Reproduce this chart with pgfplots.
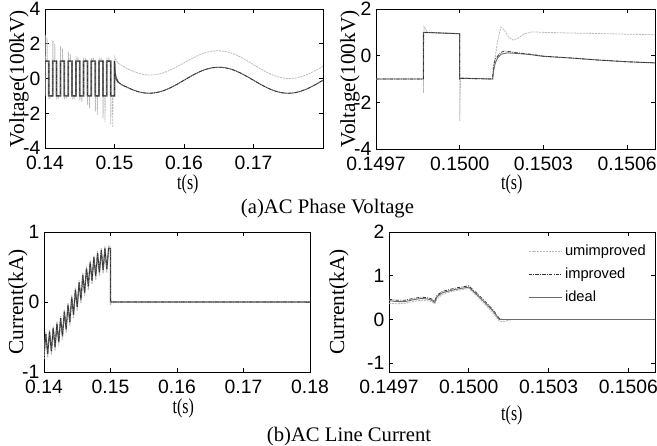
\documentclass[border=0pt]{standalone}
\usepackage{fontspec}
\setmainfont{Liberation Serif}
\newfontfamily\arialf{Liberation Sans}
\usepackage{graphicx}
\usepackage{pgfplots}
\usepackage{pgfplotstable}
\pgfplotsset{compat=1.18}

\definecolor{lgray}{gray}{0.72}
\definecolor{mgray}{gray}{0.42}

\pgfplotsset{
  myax/.style={scale only axis, anchor=south west,
    axis line style={line width=0.6pt},
    tick align=inside, major tick length=3pt,
    every tick/.style={black, line width=0.5pt},
    tick label style={font=\arialf\fontsize{14.5}{15}\selectfont},
    xticklabel style={yshift=-2.5pt},
    /pgf/number format/assume math mode=true,
    label style={font=\fontsize{16}{17}\selectfont},
    scaled ticks=false},
  sunimp/.style={lgray, line width=0.6pt, dash pattern=on 1.5pt off 0.7pt},
  sideal/.style={mgray, line width=0.7pt},
  simp/.style={black!80, line width=0.6pt, dash pattern=on 2.5pt off 1pt on 0.6pt off 1pt},
}

% top-left: switching part, ideal/improved
\pgfplotstableread{
t v
0.14 -1
0.14 1
0.140556 1
0.140556 -1
0.141111 -1
0.141111 1
0.141667 1
0.141667 -1
0.142222 -1
0.142222 1
0.142778 1
0.142778 -1
0.143333 -1
0.143333 1
0.143889 1
0.143889 -1
0.144444 -1
0.144444 1
0.145 1
0.145 -1
0.145556 -1
0.145556 1
0.146111 1
0.146111 -1
0.146667 -1
0.146667 1
0.147222 1
0.147222 -1
0.147778 -1
0.147778 1
0.148333 1
0.148333 -1
0.148889 -1
0.148889 1
0.149444 1
0.149444 -1
0.15 -1
0.15 1
0.15008 0.3
0.1502 0.05
0.1505 -0.2
}\tlsw

% top-left: switching part, unimproved
\pgfplotstableread{
t v
0.14 -1
0.14002 2.5
0.14006 1
0.140278 1
0.140298 2.35
0.140338 1
0.140556 1
0.140576 -1.2
0.140616 -1
0.140833 -1
0.140853 -1.15
0.140893 -1
0.141111 -1
0.141131 2.2
0.141171 1
0.141389 1
0.141409 2.0
0.141449 1
0.141667 1
0.141687 -1.2
0.141727 -1
0.141944 -1
0.141964 -1.15
0.142004 -1
0.142222 -1
0.142242 1.85
0.142282 1
0.1425 1
0.14252 1.7
0.14256 1
0.142778 1
0.142798 -1.2
0.142838 -1
0.143056 -1
0.143076 -1.15
0.143116 -1
0.143333 -1
0.143353 1.55
0.143393 1
0.143611 1
0.143631 1.4
0.143671 1
0.143889 1
0.143909 -1.2
0.143949 -1
0.144167 -1
0.144187 -1.2
0.144227 -1
0.144444 -1
0.144464 1.3
0.144504 1
0.144722 1
0.144742 1.25
0.144782 1
0.145 1
0.14502 -1.25
0.14506 -1
0.145278 -1
0.145298 -1.35
0.145338 -1
0.145556 -1
0.145576 1.2
0.145616 1
0.145833 1
0.145853 1.2
0.145893 1
0.146111 1
0.146131 -1.5
0.146171 -1
0.146389 -1
0.146409 -1.7
0.146449 -1
0.146667 -1
0.146687 1.2
0.146727 1
0.146944 1
0.146964 1.2
0.147004 1
0.147222 1
0.147242 -1.9
0.147282 -1
0.1475 -1
0.14752 -2.1
0.14756 -1
0.147778 -1
0.147798 1.2
0.147838 1
0.148056 1
0.148076 1.2
0.148116 1
0.148333 1
0.148353 -2.3
0.148393 -1
0.148611 -1
0.148631 -2.5
0.148671 -1
0.148889 -1
0.148909 1.2
0.148949 1
0.149167 1
0.149187 1.2
0.149227 1
0.149444 1
0.149464 -2.65
0.149504 -1
0.149722 -1
0.149742 -2.8
0.149782 -1
0.15 -1
0.15003 1.25
0.1502 1.1
0.1505 0.88
}\tlswu

% top-left: after the fault, d = ideal/improved, u = unimproved
\pgfplotstableread{
t d u
0.1505 -0.2 0.88
0.151 -0.35 0.758
0.152 -0.541 0.539
0.153 -0.707 0.363
0.154 -0.813 0.247
0.155 -0.85 0.2
0.156 -0.813 0.227
0.157 -0.707 0.323
0.158 -0.541 0.479
0.159 -0.332 0.678
0.160 -0.1 0.90
0.161 0.132 1.122
0.162 0.341 1.321
0.163 0.507 1.477
0.164 0.613 1.573
0.165 0.65 1.6
0.166 0.613 1.553
0.167 0.507 1.437
0.168 0.341 1.261
0.169 0.132 1.042
0.170 -0.1 0.80
0.171 -0.332 0.558
0.172 -0.541 0.339
0.173 -0.707 0.163
0.174 -0.813 0.047
0.175 -0.85 0.0
0.176 -0.813 0.027
0.177 -0.707 0.123
0.178 -0.541 0.279
0.179 -0.332 0.478
0.180 -0.1 0.70
}\tlsin

% bottom-left: line current, d = ideal/improved, u = unimproved
\pgfplotstableread{
t d u
0.14 -0.765 -0.815
0.140278 -0.456 -0.426
0.140556 -0.742 -0.792
0.140833 -0.424 -0.394
0.141111 -0.701 -0.751
0.141389 -0.375 -0.345
0.141667 -0.644 -0.694
0.141944 -0.309 -0.279
0.142222 -0.571 -0.621
0.1425 -0.230 -0.200
0.142778 -0.486 -0.536
0.143056 -0.139 -0.109
0.143333 -0.390 -0.440
0.143611 -0.040 -0.010
0.143889 -0.287 -0.337
0.144167 0.066 0.096
0.144444 -0.180 -0.230
0.144722 0.174 0.204
0.145 -0.072 -0.122
0.145278 0.281 0.311
0.145556 0.033 -0.017
0.145833 0.384 0.414
0.146111 0.133 0.083
0.146389 0.480 0.510
0.146667 0.225 0.175
0.146944 0.567 0.597
0.147222 0.305 0.255
0.1475 0.640 0.670
0.147778 0.371 0.321
0.148056 0.699 0.729
0.148333 0.422 0.372
0.148611 0.740 0.770
0.148889 0.455 0.405
0.149167 0.764 0.794
0.149444 0.469 0.419
0.149722 0.769 0.799
0.15 0.76 0.79
0.15 0 -0.05
0.1501 0 0.02
0.1502 0 0
0.18 0 0
}\blc

\begin{document}
\begin{tikzpicture}
\path[use as bounding box] (0,0) rectangle (492.75pt,-334.5pt);

% ---------- (a) top left ----------
\begin{axis}[myax, at={(33.75pt,-111pt)}, width=208.5pt, height=104.25pt,
  xmin=0.14, xmax=0.18, ymin=-4, ymax=4,
  xtick={0.14,0.15,0.16,0.17,0.18}, xticklabels={0.14,0.15,0.16,0.17,},
  ytick={-4,-2,0,2,4}, yticklabels={-4,-2,0,2,4},
  xlabel={\scalebox{0.75}[1]{t(s)}}, ylabel={Voltage(100kV)},
  xlabel style={at={(axis description cs:0.514,-0.259)}, anchor=center},
  ylabel style={at={(axis description cs:-0.0935,0.5)}, anchor=center}]
\addplot[sunimp] table[x=t, y=v] {\tlswu};
\addplot[sunimp, smooth] table[x=t, y=u] {\tlsin};
\addplot[sideal, line width=1.3pt] table[x=t, y=v] {\tlsw};
\addplot[sideal, smooth] table[x=t, y=d] {\tlsin};
\addplot[simp] table[x=t, y=v] {\tlsw};
\addplot[simp, smooth] table[x=t, y=d] {\tlsin};
\end{axis}

% ---------- (a) top right ----------
\begin{axis}[myax, at={(282pt,-111.75pt)}, width=209.25pt, height=105pt,
  xmin=0.1497, xmax=0.1507, ymin=-4, ymax=2,
  xtick={0.1497,0.15,0.1503,0.1506}, xticklabels={0.1497,0.1500,0.1503,0.1506},
  ytick={-4,-2,0,2}, yticklabels={-4,-2,0,2},
  xlabel={\scalebox{0.75}[1]{t(s)}}, ylabel={Voltage(100kV)},
  xlabel style={at={(axis description cs:0.487,-0.25)}, anchor=center},
  ylabel style={at={(axis description cs:-0.093,0.5)}, anchor=center}]
\addplot[sunimp] coordinates {
(0.1497,-1) (0.14987,-1) (0.14987,-1.6) (0.149872,1.25) (0.149885,1.0)
(0.15,0.95) (0.15,-2.8) (0.150003,-0.95) (0.150118,-1) (0.150125,-0.3)
(0.150135,0.6) (0.150148,1.22) (0.15016,1.1) (0.150175,0.8) (0.150191,0.67)
(0.15021,0.75) (0.15023,0.93) (0.15026,1.02) (0.1503,1.0) (0.1504,0.97)
(0.1505,0.95) (0.1506,0.92) (0.1507,0.9)};
\addplot[sideal] coordinates {
(0.1497,-1) (0.14987,-1) (0.14987,1.0) (0.15,0.94) (0.15,-1) (0.150005,-0.97)
(0.150118,-1) (0.150122,-0.6) (0.150128,-0.3) (0.150136,-0.1) (0.150148,0.06)
(0.15017,0.12) (0.1502,0.1) (0.15025,0.05) (0.1503,-0.03) (0.1504,-0.1)
(0.1505,-0.19) (0.1506,-0.26) (0.1507,-0.31)};
\addplot[simp] coordinates {
(0.1497,-1) (0.14987,-1) (0.14987,1.0) (0.15,0.94) (0.15,-1) (0.150005,-0.97)
(0.150118,-1) (0.150121,-0.4) (0.150128,-0.15) (0.150145,0.12) (0.15016,0.2)
(0.15018,0.17) (0.1502,0.13) (0.15025,0.07) (0.1503,-0.02) (0.1504,-0.1)
(0.1505,-0.19) (0.1506,-0.26) (0.1507,-0.31)};
\end{axis}

\node[font=\fontsize{15.5}{16}\selectfont] at (245.6pt,-156.75pt) {(a)AC Phase Voltage};

% ---------- (b) bottom left ----------
\begin{axis}[myax, at={(33pt,-279pt)}, width=199.5pt, height=105pt,
  xmin=0.14, xmax=0.18, ymin=-1, ymax=1,
  xtick={0.14,0.15,0.16,0.17,0.18}, xticklabels={0.14,0.15,0.16,0.17,0.18},
  ytick={-1,0,1}, yticklabels={-1,0,1},
  xlabel={\scalebox{0.75}[1]{t(s)}}, ylabel={Current(kA)},
  xlabel style={at={(axis description cs:0.524,-0.257)}, anchor=center},
  ylabel style={at={(axis description cs:-0.098,0.5)}, anchor=center}]
\addplot[sunimp, line width=0.8pt] table[x=t, y=u] {\blc};
\addplot[sideal, line width=0.9pt] table[x=t, y=d] {\blc};
\addplot[simp] table[x=t, y=d] {\blc};
\end{axis}

% ---------- (b) bottom right ----------
\begin{axis}[myax, at={(291.75pt,-279pt)}, width=199.5pt, height=105pt,
  xmin=0.1497, xmax=0.1507, ymin=-1.2, ymax=2,
  xtick={0.1497,0.15,0.1503,0.1506}, xticklabels={0.1497,0.1500,0.1503,0.1506},
  ytick={-1,0,1,2}, yticklabels={-1,0,1,2},
  xlabel={\scalebox{0.75}[1]{t(s)}}, ylabel={Current(kA)},
  xlabel style={at={(axis description cs:0.462,-0.307)}, anchor=center},
  ylabel style={at={(axis description cs:-0.188,0.5)}, anchor=center},
  legend image code/.code={\draw[#1] (0pt,0pt) -- (25pt,0pt);},
  legend style={draw=none, fill=none, at={(axis description cs:0.507,0.95)},
    anchor=north west, font=\arialf\fontsize{11}{12}\selectfont, row sep=4pt,
    cells={anchor=west}}]
\addplot[sunimp] coordinates {
(0.1497,0.37) (0.14973,0.36) (0.14976,0.37) (0.14979,0.41) (0.14982,0.44)
(0.149845,0.43) (0.14986,0.40) (0.149872,0.36) (0.14988,0.47) (0.1499,0.57)
(0.14993,0.63) (0.14996,0.67) (0.15,0.71) (0.15003,0.54) (0.15006,0.35)
(0.15009,0.15) (0.150115,-0.04) (0.15013,-0.05) (0.15016,0.0) (0.1507,0.0)};
\addlegendentry{umimproved}
\addplot[simp] coordinates {
(0.1497,0.46) (0.14973,0.44) (0.14976,0.44) (0.14979,0.48) (0.14982,0.51)
(0.149845,0.50) (0.14986,0.47) (0.149872,0.42) (0.14988,0.55) (0.1499,0.64)
(0.14993,0.69) (0.14996,0.73) (0.14999,0.76) (0.15,0.77) (0.15003,0.6)
(0.15006,0.42) (0.15009,0.23) (0.150115,0.02) (0.15013,0.0) (0.1507,0.0)};
\addlegendentry{improved}
\addplot[sideal] coordinates {
(0.1497,0.43) (0.14973,0.41) (0.14976,0.41) (0.14979,0.45) (0.14982,0.48)
(0.149845,0.47) (0.14986,0.44) (0.149872,0.39) (0.14988,0.52) (0.1499,0.61)
(0.14993,0.66) (0.14996,0.70) (0.14999,0.73) (0.15,0.74) (0.15003,0.57)
(0.15006,0.39) (0.15009,0.2) (0.150115,0.0) (0.15013,0.0) (0.1507,0.0)};
\addlegendentry{ideal}
\end{axis}

\node[font=\fontsize{15.5}{16}\selectfont] at (261.75pt,-327.75pt) {(b)AC Line Current};
\end{tikzpicture}
\end{document}
